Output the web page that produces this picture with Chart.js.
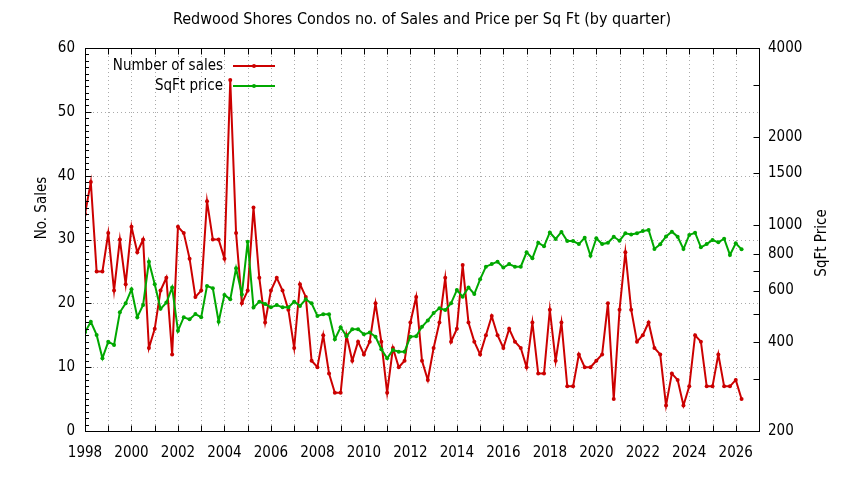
<!DOCTYPE html>
<html>
<head>
<meta charset="utf-8">
<script src="https://cdn.jsdelivr.net/npm/chart.js@4/dist/chart.umd.min.js"></script>
<style>
html,body{margin:0;padding:0;background:#fff;}
#wrap{width:844px;height:480px;}
</style>
</head>
<body>
<div id="wrap"><canvas id="c" width="844" height="480"></canvas></div>
<script>
const chartTitle = 'Redwood Shores Condos no. of Sales and Price per Sq Ft (by quarter)';
const salesLabel = 'Number of sales';
const priceLabel = 'SqFt price';
const leftAxisTitle = 'No. Sales';
const rightAxisTitle = 'SqFt Price';
const startYear = 1998; // first quarter of the series (Q1 1998), one point per quarter

const salesCount = [
  34, 39, 25, 25, 31, 22, 30, 23, 32, 28, 30, 13, 16, 22, 24, 12,
  32, 31, 27, 21, 22, 36, 30, 30, 27, 55, 31, 20, 22, 35, 24, 17,
  22, 24, 22, 19, 13, 23, 21, 11, 10, 15, 9, 6, 6, 15, 11, 14,
  12, 14, 20, 14, 6, 13, 10, 11, 17, 21, 11, 8, 13, 17, 24, 14,
  16, 26, 17, 14, 12, 15, 18, 15, 13, 16, 14, 13, 10, 17, 9, 9,
  19, 11, 17, 7, 7, 12, 10, 10, 11, 12, 20, 5, 19, 28, 19, 14,
  15, 17, 13, 12, 4, 9, 8, 4, 7, 15, 14, 7, 7, 12, 7, 7,
  8, 5
];

const sqftPrice = [
  433, 470, 424, 353, 402, 392, 506, 543, 606, 487, 536, 752, 630, 520, 546, 614,
  438, 487, 479, 499, 487, 622, 611, 470, 580, 560, 714, 582, 879, 525, 550, 540,
  526, 536, 526, 526, 550, 532, 560, 543, 492, 498, 498, 410, 450, 420, 443, 443,
  426, 432, 418, 379, 353, 377, 372, 372, 418, 420, 452, 475, 503, 522, 515, 543,
  602, 572, 615, 584, 655, 723, 738, 752, 718, 738, 723, 723, 809, 772, 872, 848,
  945, 898, 949, 884, 884, 863, 907, 788, 903, 863, 872, 914, 886, 939, 931, 939,
  955, 964, 831, 862, 916, 951, 914, 830, 927, 943, 841, 863, 891, 875, 900, 793,
  868, 828
];

const xMin = 1998, xMax = 2027;
const yearTicks = [];
for (let y = xMin; y <= xMax; y++) yearTicks.push(y);
const yearLabels = [1998, 2000, 2002, 2004, 2006, 2008, 2010, 2012, 2014, 2016, 2018, 2020, 2022, 2024, 2026];
const salesTicks = [0, 10, 20, 30, 40, 50, 60];
const salesGrid = [10, 20, 30, 40, 50];
const priceTicks = [200, 300, 400, 500, 600, 700, 800, 1000, 1500, 2000, 3000, 4000];
const priceLabels = [200, 400, 600, 800, 1000, 1500, 2000, 4000];

const RED = '#cc0000';
const GREEN = '#00a800';
const FONT = "'DejaVu Sans Condensed', 'Liberation Sans', 'DejaVu Sans', sans-serif";
const FSIZE = 15;

const quarterX = i => startYear + i / 4;

const framePlugin = {
  id: 'frame',
  beforeDatasetsDraw(chart) {
    const {ctx, chartArea: a, scales} = chart;
    ctx.save();
    ctx.strokeStyle = '#aaaaaa';
    ctx.lineWidth = 1;
    ctx.setLineDash([1, 3]);
    yearTicks.forEach(v => {
      if (v === xMin || v === xMax) return;
      const px = Math.round(scales.x.getPixelForValue(v)) + 0.5;
      ctx.beginPath(); ctx.moveTo(px, a.top); ctx.lineTo(px, a.bottom); ctx.stroke();
    });
    salesGrid.forEach(v => {
      const py = Math.round(scales.y.getPixelForValue(v)) + 0.5;
      ctx.beginPath(); ctx.moveTo(a.left, py); ctx.lineTo(a.right, py); ctx.stroke();
    });
    ctx.restore();
  },
  afterDatasetsDraw(chart) {
    const {ctx, chartArea: a, scales} = chart;
    ctx.save();
    ctx.strokeStyle = '#000';
    ctx.lineWidth = 1;
    ctx.setLineDash([]);
    const L = Math.round(a.left) + 0.5, R = Math.round(a.right) + 0.5;
    const T = Math.round(a.top) + 0.5, B = Math.round(a.bottom) + 0.5;
    ctx.beginPath();
    yearTicks.forEach(v => {
      const px = Math.round(scales.x.getPixelForValue(v)) + 0.5;
      ctx.moveTo(px, B); ctx.lineTo(px, B - 6);
      ctx.moveTo(px, T); ctx.lineTo(px, T + 6);
    });
    for (let v = 0; v <= 60; v++) {
      const py = Math.round(scales.y.getPixelForValue(v)) + 0.5;
      const len = salesTicks.includes(v) ? 6 : 3.5;
      ctx.moveTo(L, py); ctx.lineTo(L + len, py);
    }
    priceTicks.forEach(v => {
      const py = Math.round(scales.y2.getPixelForValue(v)) + 0.5;
      ctx.moveTo(R, py); ctx.lineTo(R - 6, py);
    });
    ctx.stroke();
    ctx.strokeRect(L, T, R - L, B - T);
    ctx.restore();
  },
  afterDraw(chart) {
    const {ctx} = chart;
    ctx.save();
    ctx.fillStyle = '#000';
    ctx.font = FSIZE + 'px ' + FONT;
    ctx.textAlign = 'center';
    ctx.textBaseline = 'middle';
    ctx.save(); ctx.translate(42, 208); ctx.rotate(-Math.PI / 2); ctx.fillText(leftAxisTitle, 0, 0); ctx.restore();
    ctx.save(); ctx.translate(822, 243); ctx.rotate(-Math.PI / 2); ctx.fillText(rightAxisTitle, 0, 0); ctx.restore();
    const items = [[salesLabel, RED, 66], [priceLabel, GREEN, 86]];
    ctx.textAlign = 'right';
    items.forEach(([t, col, y]) => {
      ctx.fillStyle = '#000';
      ctx.fillText(t, 223, y);
      ctx.strokeStyle = col; ctx.lineWidth = 2;
      ctx.beginPath(); ctx.moveTo(233, y); ctx.lineTo(275, y); ctx.stroke();
      ctx.fillStyle = col;
      ctx.beginPath(); ctx.arc(254, y, 2, 0, Math.PI * 2); ctx.fill();
    });
    ctx.restore();
  }
};

new Chart(document.getElementById('c').getContext('2d'), {
  type: 'line',
  data: {
    datasets: [
      {
        label: salesLabel,
        data: salesCount.map((v, i) => ({x: quarterX(i), y: v})),
        yAxisID: 'y',
        borderColor: RED, backgroundColor: RED,
        borderWidth: 2, pointRadius: 2, pointBorderWidth: 0, pointHoverRadius: 2,
        tension: 0, order: 1
      },
      {
        label: priceLabel,
        data: sqftPrice.map((v, i) => ({x: quarterX(i), y: v})),
        yAxisID: 'y2',
        borderColor: GREEN, backgroundColor: GREEN,
        borderWidth: 2, pointRadius: 2, pointBorderWidth: 0, pointHoverRadius: 2,
        tension: 0, order: 0
      }
    ]
  },
  options: {
    responsive: false,
    animation: false,
    devicePixelRatio: 1,
    layout: {padding: 0},
    events: [],
    plugins: {
      legend: {display: false},
      tooltip: {enabled: false},
      title: {
        display: true, text: chartTitle, color: '#000',
        font: {family: FONT, size: 16, weight: 'normal', lineHeight: 1.2},
        padding: {top: 10, bottom: 18.8}
      }
    },
    scales: {
      x: {
        type: 'linear', min: xMin, max: xMax,
        afterBuildTicks: s => { s.ticks = yearTicks.map(v => ({value: v})); },
        afterFit: s => { s.height = 49; },
        grid: {display: false, drawTicks: false},
        border: {display: false},
        ticks: {
          autoSkip: false, maxRotation: 0, minRotation: 0, padding: 13, color: '#000',
          font: {family: FONT, size: FSIZE},
          callback: v => yearLabels.includes(v) ? String(v) : ''
        }
      },
      y: {
        type: 'linear', position: 'left', min: 0, max: 60,
        afterBuildTicks: s => { s.ticks = salesTicks.map(v => ({value: v})); },
        afterFit: s => { s.width = 85; },
        grid: {display: false, drawTicks: false},
        border: {display: false},
        ticks: {padding: 10, color: '#000', font: {family: FONT, size: FSIZE}, callback: v => String(v)}
      },
      y2: {
        type: 'logarithmic', position: 'right', min: 200, max: 4000,
        afterBuildTicks: s => { s.ticks = priceTicks.map(v => ({value: v})); },
        afterFit: s => { s.width = 85; },
        grid: {display: false, drawTicks: false},
        border: {display: false},
        ticks: {padding: 9, color: '#000', font: {family: FONT, size: FSIZE},
          callback: v => priceLabels.includes(v) ? String(v) : ''}
      }
    }
  },
  plugins: [framePlugin]
});
</script>
</body>
</html>
